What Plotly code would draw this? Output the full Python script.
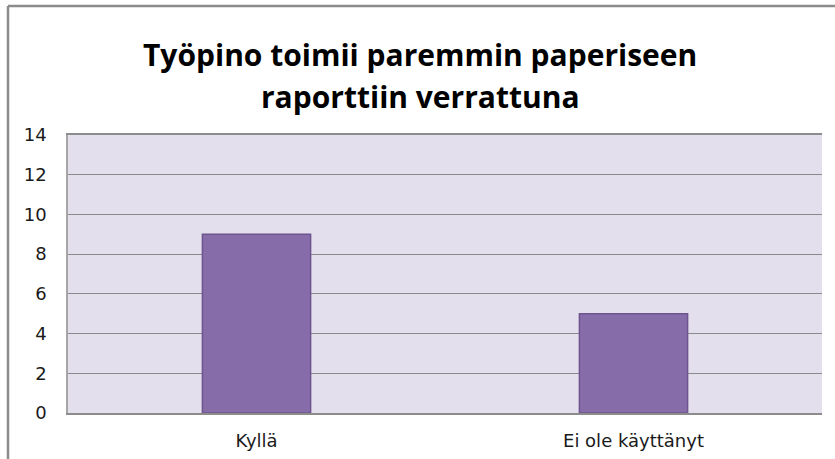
import plotly.graph_objects as go

categories = ["Kyllä", "Ei ole käyttänyt"]
values = [9, 5]
y_ticks = [0, 2, 4, 6, 8, 10, 12, 14]
title_lines = ["Työpino toimii paremmin paperiseen", "raporttiin verrattuna"]

W, H = 835, 459
L, R, T, B = 68, 13, 135, 46
pw = W - L - R
ph = H - T - B

fig = go.Figure()
fig.add_trace(go.Bar(
    x=categories, y=values, width=0.287,
    marker=dict(color="#876CAA", line=dict(color="#6E5590", width=1.5)),
    hoverinfo="x+y",
))

fig.update_layout(
    width=W, height=H,
    margin=dict(l=L, r=R, t=T, b=B, autoexpand=False),
    paper_bgcolor="white",
    plot_bgcolor="#E4DFEC",
    showlegend=False,
    bargap=0.713,
    font=dict(family="DejaVu Sans", size=15, color="#000000"),
)

# title as two lines (controls line spacing), centred on the whole chart
title_x = (420 - L) / pw
for line, ypx in zip(title_lines, [54, 96]):
    fig.add_annotation(
        text="<b>" + line + "</b>", showarrow=False,
        xref="paper", x=title_x, xanchor="center",
        yref="paper", y=(H - B - ypx) / ph, yanchor="middle",
        font=dict(family="Open Sans", size=30, color="#000000"),
    )

fig.update_xaxes(
    showline=True, linecolor="#8C8C8C", linewidth=1.5, mirror=True,
    showgrid=False, ticks="", ticklabelstandoff=11, automargin=False,
    tickfont=dict(family="DejaVu Sans", size=18, color="#1A1A1A"),
)
fig.update_yaxes(
    range=[0, 14], tickvals=y_ticks, showgrid=True,
    gridcolor="#8A8A8A", gridwidth=1,
    showline=True, linecolor="#A6A6A6", linewidth=1.5,
    zeroline=False, ticks="", ticklabelstandoff=16, automargin=False,
    tickfont=dict(family="DejaVu Sans", size=18, color="#1A1A1A"),
)

# outer chart frame (partially cropped at right and bottom)
x_left = (8 - L) / pw
y_top = (H - B - 6) / ph
fig.add_shape(type="line", xref="paper", yref="paper",
              x0=x_left, x1=x_left, y0=-0.3, y1=y_top,
              line=dict(color="#8C8C8C", width=2.5))
fig.add_shape(type="line", xref="paper", yref="paper",
              x0=x_left, x1=1.1, y0=y_top, y1=y_top,
              line=dict(color="#8C8C8C", width=2.5))

fig.write_html("out.html")
